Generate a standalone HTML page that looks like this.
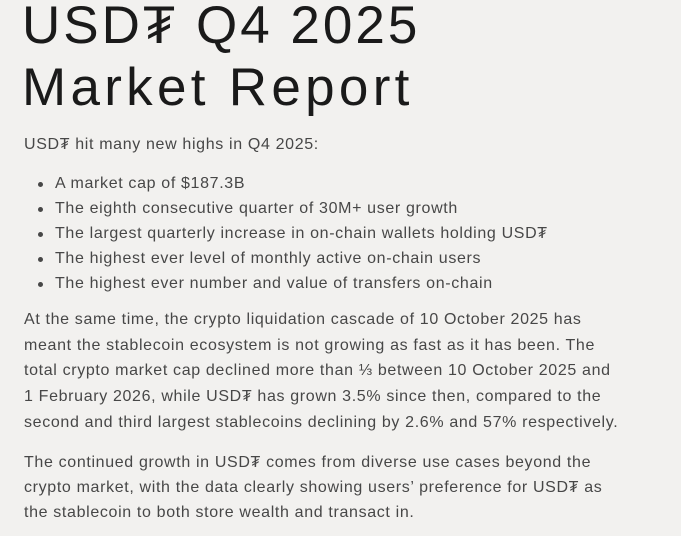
<!DOCTYPE html>
<html><head><meta charset="utf-8"><style>
html,body{margin:0;padding:0;}
body{width:681px;height:536px;background:#f2f1ef;position:relative;overflow:hidden;font-family:"Liberation Sans",sans-serif;}
.t{position:absolute;left:22px;font-size:53px;line-height:60px;color:#1a1a1a;white-space:nowrap;}
.l{position:absolute;left:24px;font-size:16px;line-height:26px;color:#474747;white-space:nowrap;letter-spacing:0.65px;}
.b{left:55px;}
.d{position:absolute;left:38px;width:5px;height:5px;border-radius:50%;background:#474747;}
</style></head><body>
<div class="t" style="top:-4px;letter-spacing:3px">USD₮ Q4 2025</div>
<div class="t" style="top:58px;letter-spacing:4.3px">Market Report</div>

<div class="l" style="top:132px">USD₮ hit many new highs in Q4 2025:</div>

<div class="d" style="top:182px"></div><div class="l b" style="top:171px">A market cap of $187.3B</div>
<div class="d" style="top:207px"></div><div class="l b" style="top:196px">The eighth consecutive quarter of 30M+ user growth</div>
<div class="d" style="top:232px"></div><div class="l b" style="top:221px">The largest quarterly increase in on-chain wallets holding USD₮</div>
<div class="d" style="top:257px"></div><div class="l b" style="top:246px">The highest ever level of monthly active on-chain users</div>
<div class="d" style="top:282px"></div><div class="l b" style="top:271px">The highest ever number and value of transfers on-chain</div>

<div class="l" style="top:307px">At the same time, the crypto liquidation cascade of 10 October 2025 has</div>
<div class="l" style="top:333px">meant the stablecoin ecosystem is not growing as fast as it has been. The</div>
<div class="l" style="top:358px">total crypto market cap declined more than ⅓ between 10 October 2025 and</div>
<div class="l" style="top:384px">1 February 2026, while USD₮ has grown 3.5% since then, compared to the</div>
<div class="l" style="top:410px">second and third largest stablecoins declining by 2.6% and 57% respectively.</div>

<div class="l" style="top:450px">The continued growth in USD₮ comes from diverse use cases beyond the</div>
<div class="l" style="top:475px">crypto market, with the data clearly showing users’ preference for USD₮ as</div>
<div class="l" style="top:500px">the stablecoin to both store wealth and transact in.</div>
</body></html>
